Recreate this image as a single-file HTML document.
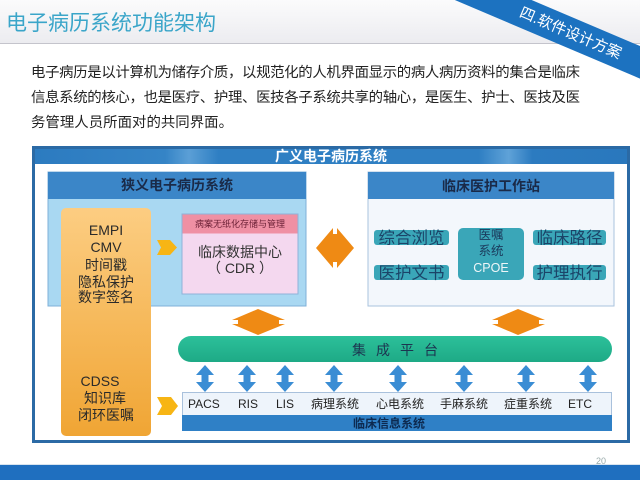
<!DOCTYPE html>
<html><head><meta charset="utf-8">
<style>
html,body{margin:0;padding:0;background:#fff;}
svg{display:block;}
text{font-family:"Liberation Sans","Noto Sans CJK SC",sans-serif;}
</style></head>
<body>
<svg width="640" height="480" viewBox="0 0 640 480" xmlns="http://www.w3.org/2000/svg">
<defs>
<linearGradient id="hdr" x1="0" y1="0" x2="0" y2="1">
<stop offset="0" stop-color="#fbfbfc"/><stop offset="1" stop-color="#ececf0"/>
</linearGradient>
<linearGradient id="tbar" x1="0" y1="0" x2="1" y2="0">
<stop offset="0" stop-color="#2c7bc0"/><stop offset="0.22" stop-color="#3584c6"/>
<stop offset="0.26" stop-color="#5b9fd6"/><stop offset="0.31" stop-color="#2f7fc3"/>
<stop offset="0.75" stop-color="#2f7fc3"/><stop offset="0.8" stop-color="#5fa2d8"/>
<stop offset="0.84" stop-color="#2c7bc0"/><stop offset="1" stop-color="#2a78bd"/>
</linearGradient>
<linearGradient id="org" x1="0" y1="0" x2="0" y2="1">
<stop offset="0" stop-color="#fccd82"/><stop offset="1" stop-color="#f0a534"/>
</linearGradient>
<linearGradient id="grn" x1="0" y1="0" x2="0" y2="1">
<stop offset="0" stop-color="#2cc09a"/><stop offset="1" stop-color="#1eaa86"/>
</linearGradient>
</defs>

<!-- header -->
<rect x="0" y="0" width="640" height="43" fill="url(#hdr)"/>
<line x1="0" y1="43.5" x2="640" y2="43.5" stroke="#c4c4cc" stroke-width="1"/>
<text x="6" y="30" font-size="21" fill="#3aa5c9">电子病历系统功能架构</text>

<!-- ribbon -->
<g transform="translate(578,36) rotate(23)">
<rect x="-170" y="-15" width="340" height="30" fill="#1c72c0"/>
<text x="-8" y="5" font-size="15" fill="#ffffff" text-anchor="middle">四.软件设计方案</text>
</g>

<!-- body text -->
<text x="31" y="77" font-size="14.4" fill="#222" textLength="549" lengthAdjust="spacing">电子病历是以计算机为储存介质，以规范化的人机界面显示的病人病历资料的集合是临床</text>
<text x="31" y="102" font-size="14.4" fill="#222" textLength="549" lengthAdjust="spacing">信息系统的核心，也是医疗、护理、医技各子系统共享的轴心，是医生、护士、医技及医</text>
<text x="31" y="127" font-size="14.4" fill="#222" textLength="202" lengthAdjust="spacing">务管理人员所面对的共同界面。</text>

<!-- outer frame -->
<rect x="33.5" y="147.5" width="595" height="294" fill="#fff" stroke="#2b6aa5" stroke-width="3"/>
<rect x="35" y="149" width="592" height="15" fill="url(#tbar)"/>
<text x="331" y="161" font-size="14" font-weight="bold" fill="#fff" text-anchor="middle">广义电子病历系统</text>

<!-- narrow EMR box -->
<rect x="48" y="172" width="258" height="134" fill="#a9d8f2" stroke="#7fb0d8" stroke-width="1"/>
<rect x="48" y="172" width="258" height="27" fill="#3b86c8"/>
<text x="177" y="190" font-size="14" font-weight="bold" fill="#1a2a48" text-anchor="middle">狭义电子病历系统</text>

<!-- clinical workstation box -->
<rect x="368" y="172" width="246" height="134" fill="#f3f7fc" stroke="#a9c3de" stroke-width="1"/>
<rect x="368" y="172" width="246" height="27" fill="#3b86c8"/>
<text x="491" y="191" font-size="14" font-weight="bold" fill="#1a2a48" text-anchor="middle">临床医护工作站</text>

<rect x="374" y="230" width="75" height="15" rx="3" fill="#3aa6b8"/>
<text x="411.5" y="243.5" font-size="16.5" fill="#1b4468" text-anchor="middle">综合浏览</text>
<rect x="374" y="265" width="75" height="15" rx="3" fill="#3aa6b8"/>
<text x="411.5" y="278.5" font-size="16.5" fill="#1b4468" text-anchor="middle">医护文书</text>
<rect x="533" y="230" width="73" height="15" rx="3" fill="#3aa6b8"/>
<text x="569.5" y="243.5" font-size="16.5" fill="#1b4468" text-anchor="middle">临床路径</text>
<rect x="533" y="265" width="73" height="15" rx="3" fill="#3aa6b8"/>
<text x="569.5" y="278.5" font-size="16.5" fill="#1b4468" text-anchor="middle">护理执行</text>
<rect x="458" y="228" width="66" height="52" rx="5" fill="#3aa6b8"/>
<text x="491" y="239" font-size="12.5" fill="#1b3a5c" text-anchor="middle">医嘱</text>
<text x="491" y="255" font-size="12.5" fill="#1b3a5c" text-anchor="middle">系统</text>
<text x="491" y="272" font-size="12.5" fill="#eef6f8" text-anchor="middle">CPOE</text>

<!-- orange column -->
<rect x="61" y="208" width="90" height="228" rx="5" fill="url(#org)"/>
<text x="106" y="235" font-size="14" fill="#2a2a2a" text-anchor="middle">EMPI</text>
<text x="106" y="252" font-size="14" fill="#2a2a2a" text-anchor="middle">CMV</text>
<text x="106" y="270" font-size="14" fill="#2a2a2a" text-anchor="middle">时间戳</text>
<text x="106" y="287" font-size="14" fill="#2a2a2a" text-anchor="middle">隐私保护</text>
<text x="106" y="302" font-size="14" fill="#2a2a2a" text-anchor="middle">数字签名</text>
<text x="100" y="386" font-size="14" fill="#2a2a2a" text-anchor="middle">CDSS</text>
<text x="105" y="403" font-size="14" fill="#2a2a2a" text-anchor="middle">知识库</text>
<text x="106" y="420" font-size="14" fill="#2a2a2a" text-anchor="middle">闭环医嘱</text>

<!-- pink CDR box -->
<rect x="182" y="214" width="116" height="80" fill="#f4d8ef" stroke="#8fb2d8" stroke-width="1"/>
<rect x="182.5" y="214.5" width="115" height="19" fill="#ef90a4"/>
<text x="240" y="227" font-size="9" fill="#6a1f35" text-anchor="middle">病案无纸化存储与管理</text>
<text x="240" y="257" font-size="14" fill="#333" text-anchor="middle">临床数据中心</text>
<text x="240" y="273" font-size="14" fill="#333" text-anchor="middle">（ CDR ）</text>

<!-- yellow arrows -->
<polygon points="157,240 170,240 177,247.5 170,255 157,255 161,247.5" fill="#f7b514"/>
<polygon points="157,397 171,397 178,406 171,415 157,415 162,406" fill="#f7b514"/>

<!-- big orange horizontal double arrow -->
<polygon points="316,248 333,228 333,234 337,234 337,228 354,248 337,268 337,262 333,262 333,268" fill="#ef8a14"/>

<!-- orange vertical double arrows -->
<polygon points="258,309 285,320 279,320 279,324 285,324 258,335 232,324 238,324 238,320 232,320" fill="#ef8a14"/>
<polygon points="518,309 545,320 539,320 539,324 545,324 518,335 492,324 498,324 498,320 492,320" fill="#ef8a14"/>

<!-- integration platform -->
<rect x="178" y="336" width="434" height="26" rx="13" fill="url(#grn)"/>
<text x="359" y="355" font-size="14" fill="#1c3550" text-anchor="middle">集</text>
<text x="383" y="355" font-size="14" fill="#1c3550" text-anchor="middle">成</text>
<text x="407" y="355" font-size="14" fill="#1c3550" text-anchor="middle">平</text>
<text x="431" y="355" font-size="14" fill="#1c3550" text-anchor="middle">台</text>

<!-- blue vertical arrows -->
<g fill="#3a8dd4">
<polygon points="205,365 214,375 208.5,375 208.5,382 214,382 205,392 196,382 201.5,382 201.5,375 196,375"/>
<polygon points="247,365 256,375 250.5,375 250.5,382 256,382 247,392 238,382 243.5,382 243.5,375 238,375"/>
<polygon points="285,365 294,375 288.5,375 288.5,382 294,382 285,392 276,382 281.5,382 281.5,375 276,375"/>
<polygon points="334,365 343,375 337.5,375 337.5,382 343,382 334,392 325,382 330.5,382 330.5,375 325,375"/>
<polygon points="398,365 407,375 401.5,375 401.5,382 407,382 398,392 389,382 394.5,382 394.5,375 389,375"/>
<polygon points="464,365 473,375 467.5,375 467.5,382 473,382 464,392 455,382 460.5,382 460.5,375 455,375"/>
<polygon points="526,365 535,375 529.5,375 529.5,382 535,382 526,392 517,382 522.5,382 522.5,375 517,375"/>
<polygon points="588,365 597,375 591.5,375 591.5,382 597,382 588,392 579,382 584.5,382 584.5,375 579,375"/>
</g>

<!-- clinical info systems -->
<rect x="182.5" y="392.5" width="429" height="23" fill="#eef4fb" stroke="#a9c1dc" stroke-width="1"/>
<rect x="182" y="415" width="430" height="16" fill="#2f80c6"/>
<g font-size="12" fill="#222">
<text x="188" y="408">PACS</text>
<text x="238" y="408">RIS</text>
<text x="276" y="408">LIS</text>
<text x="311" y="408">病理系统</text>
<text x="376" y="408">心电系统</text>
<text x="440" y="408">手麻系统</text>
<text x="504" y="408">症重系统</text>
<text x="568" y="408">ETC</text>
</g>
<text x="353" y="427.5" font-size="12" font-weight="bold" fill="#0d2a50">临床信息系统</text>

<!-- footer -->
<rect x="0" y="465" width="640" height="15" fill="#1f6fbf"/>
<line x1="0" y1="464.5" x2="640" y2="464.5" stroke="#d8e4ef" stroke-width="1"/>
<text x="596" y="464" font-size="9" fill="#9aa">20</text>
</svg>
</body></html>
